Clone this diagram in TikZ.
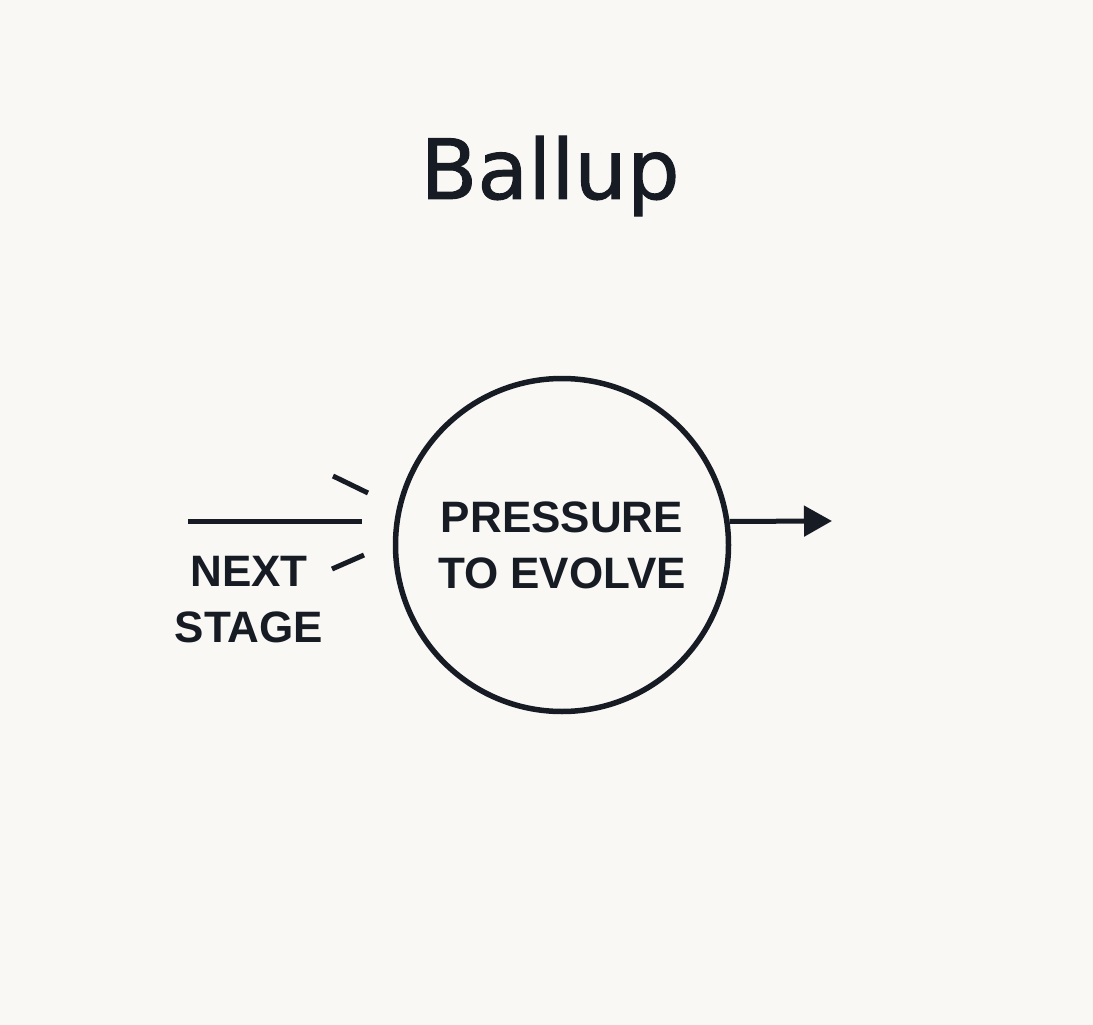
\documentclass[tikz,border=0pt]{standalone}
\usepackage{fontspec}
\setmainfont{Liberation Sans}
\newfontfamily\headfont[FakeBold=1.2]{DejaVu Sans}
\usetikzlibrary{positioning,arrows.meta}
\definecolor{ink}{HTML}{161B24}
\definecolor{paper}{HTML}{F9F8F5}

\begin{document}
\begin{tikzpicture}[
  x=1pt, y=-1pt,
  title/.style={font=\headfont\fontsize{83}{100}\selectfont, text=ink},
  lbl/.style={font=\bfseries\fontsize{44}{56}\selectfont, text=ink, align=center,
              inner sep=0pt},
  ring/.style={circle, draw=ink, line width=5.5pt, minimum size=333pt, inner sep=0pt},
  stroke/.style={draw=ink, line width=5pt},
  arw/.style={stroke, -{Triangle[length=28pt, width=30pt]}}
]
\useasboundingbox[fill=paper] (0,0) rectangle (1093,1025);
\node[title] (head) at (550,176) {Ballup};
\node[ring, lbl] (core) at (562,545) {PRESSURE\\TO EVOLVE};
\node[lbl] (next) at (249,600) {NEXT\\STAGE};

\coordinate (inA) at (188,521);
\coordinate (inB) at (362,521);
\coordinate (tickA1) at (333,476);
\coordinate (tickA2) at (368,493);
\coordinate (tickB1) at (332,569);
\coordinate (tickB2) at (364,555);
\coordinate (out) at (832,521);

\draw[stroke] (inA) -- (inB);
\draw[stroke] (tickA1) -- (tickA2);
\draw[stroke] (tickB1) -- (tickB2);
\draw[arw] (core.8.3) -- (out);
\end{tikzpicture}
\end{document}
